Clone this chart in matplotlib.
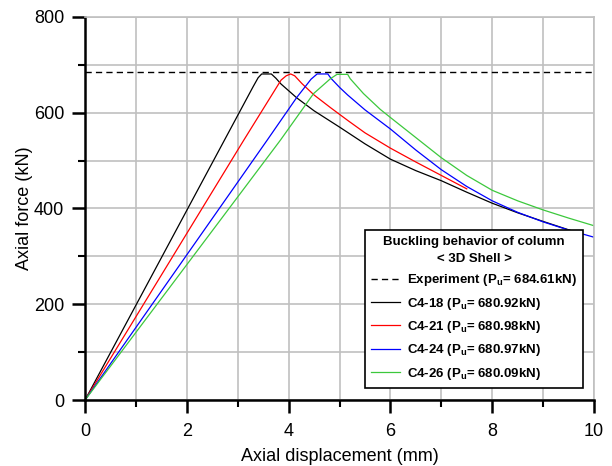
import matplotlib
matplotlib.use("Agg")
import matplotlib.pyplot as plt
from matplotlib.ticker import MultipleLocator
from matplotlib.font_manager import FontProperties

plt.rcParams['font.family'] = ['Liberation Sans', 'DejaVu Sans']
plt.rcParams['mathtext.fontset'] = 'custom'
plt.rcParams['mathtext.rm'] = 'Liberation Sans:bold'
plt.rcParams['mathtext.it'] = 'Liberation Sans:bold'
plt.rcParams['mathtext.bf'] = 'Liberation Sans:bold'

# experimental peak load
exp_pu = 684.61

# FE curves, axial displacement (mm) vs axial force (kN)
c18_x = [0, 3.30, 3.40, 3.47, 3.66, 3.75, 3.85, 4.16, 4.5, 5.0, 5.5, 6.0, 6.5, 7.0, 7.5, 8.0, 8.5, 9.0, 9.6]
c18_y = [0, 654, 673, 680.92, 680.92, 672, 660, 631, 604, 570, 535, 503, 479, 458, 434, 411, 391, 373, 352]

c21_x = [0, 3.12, 3.85, 3.95, 4.04, 4.12, 4.26, 4.5, 4.83, 5.16, 5.5, 6.0, 6.5, 7.0, 7.5]
c21_y = [0, 543, 668, 677, 680.98, 677, 661, 637, 610, 584, 558, 526, 497, 469, 441]

c24_x = [0, 3.58, 4.16, 4.44, 4.56, 4.77, 4.83, 5.0, 5.16, 5.5, 6.0, 6.5, 7.0, 7.5, 8.0, 8.5, 9.0, 9.5, 10.0]
c24_y = [0, 543, 632, 670, 680.97, 680.97, 672, 653, 637, 606, 566, 522, 481, 446, 416, 392, 372, 355, 340]

c26_x = [0, 3.84, 4.49, 4.82, 4.95, 5.16, 5.21, 5.47, 5.80, 6.0, 6.5, 7.0, 7.5, 8.0, 8.5, 9.0, 9.5, 10.0]
c26_y = [0, 543, 640, 671, 680.09, 680.09, 671, 640, 607, 590, 548, 506, 469, 438, 416, 397, 380, 364]

labels = [
    r'Experiment (P$_{\rm u}$= 684.61kN)',
    r'C4-18 (P$_{\rm u}$= 680.92kN)',
    r'C4-21 (P$_{\rm u}$= 680.98kN)',
    r'C4-24 (P$_{\rm u}$= 680.97kN)',
    r'C4-26 (P$_{\rm u}$= 680.09kN)',
]

fig = plt.figure(figsize=(6.12, 4.66), dpi=100)
ax = fig.add_axes([0.139, 0.1416, 0.8316, 0.822])

ax.plot([0, 10], [exp_pu, exp_pu], color='black', lw=1.0, ls=(0, (4.5, 3)), label=labels[0])
ax.plot(c18_x, c18_y, color='black', lw=0.9, label=labels[1])
ax.plot(c21_x, c21_y, color='#ff0000', lw=0.9, label=labels[2])
ax.plot(c24_x, c24_y, color='#0000ff', lw=0.9, label=labels[3])
ax.plot(c26_x, c26_y, color='#3cc83c', lw=0.9, label=labels[4])

ax.set_xlim(0, 10)
ax.set_ylim(0, 800)
ax.xaxis.set_major_locator(MultipleLocator(2))
ax.xaxis.set_minor_locator(MultipleLocator(1))
ax.yaxis.set_major_locator(MultipleLocator(200))
ax.yaxis.set_minor_locator(MultipleLocator(100))
ax.grid(which='both', color='#c0c0c0', lw=1.2)
ax.set_axisbelow(True)

for side in ['top', 'right']:
    ax.spines[side].set_color('#c0c0c0')
    ax.spines[side].set_linewidth(1.2)
for side in ['left', 'bottom']:
    ax.spines[side].set_linewidth(1.8)

ax.tick_params(which='major', direction='out', length=9.4, width=1.8, labelsize=13)
ax.tick_params(axis='x', which='major', pad=7)
ax.tick_params(axis='y', which='major', pad=5.5)
ax.tick_params(which='minor', direction='out', length=4.7, width=1.5)

ax.set_xlabel('Axial displacement (mm)', fontsize=13, labelpad=6)
ax.set_ylabel('Axial force (kN)', fontsize=13, labelpad=1)

bold = FontProperties(family=['Liberation Sans', 'DejaVu Sans'], weight='bold', size=9.5)
leg = ax.legend(title='Buckling behavior of column\n< 3D Shell >', prop=bold,
                title_fontproperties=bold, loc='lower right',
                bbox_to_anchor=(0.992, 0.013), frameon=True, fancybox=False,
                framealpha=1, edgecolor='black', handlelength=2.2,
                handletextpad=0.5, borderpad=0.5, labelspacing=0.56)
leg.get_frame().set_linewidth(1.2)
leg.get_title().set_multialignment('center')
leg.get_title().set_linespacing(1.5)

fig.savefig('out.png', dpi=100)
